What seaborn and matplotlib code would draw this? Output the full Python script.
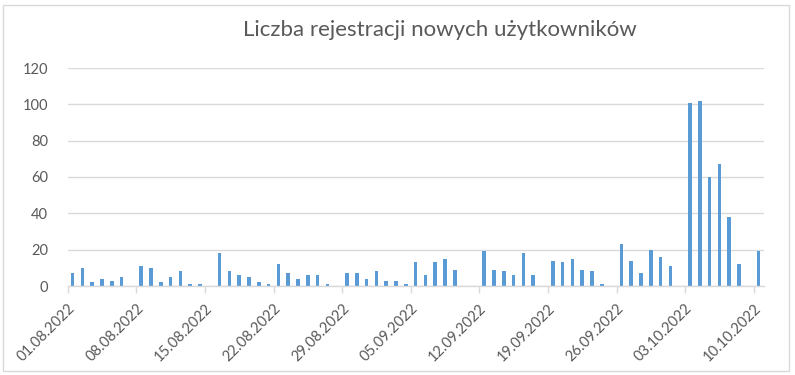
import matplotlib
matplotlib.use("Agg")
import matplotlib.pyplot as plt
import seaborn as sns
import pandas as pd
from matplotlib.patches import Rectangle

dates = pd.date_range("2022-08-01", "2022-10-10", freq="D").strftime("%d.%m.%Y").tolist()
values = [7, 10, 2, 4, 3, 5, 0,
          11, 10, 2, 5, 8, 1, 1,
          0, 18, 8, 6, 5, 2, 1,
          12, 7, 4, 6, 6, 1, 0,
          7, 7, 4, 8, 3, 3, 1,
          13, 6, 13, 15, 9, 0, 0,
          19, 9, 8, 6, 18, 6, 0,
          14, 13, 15, 9, 8, 1, 0,
          23, 14, 7, 20, 16, 11, 0,
          101, 102, 60, 67, 38, 12, 0,
          19]
title = "Liczba rejestracji nowych użytkowników"
yticks = [0, 20, 40, 60, 80, 100, 120]

df = pd.DataFrame({"data": dates, "liczba": values})

sns.set_theme(style="white")
plt.rcParams["font.family"] = ["Lato", "DejaVu Sans"]

fig = plt.figure(figsize=(7.95, 3.75), dpi=100)
ax = fig.add_axes([67.7 / 795, 1 - 286 / 375, (763.5 - 67.7) / 795, (286 - 68) / 375])

sns.barplot(data=df, x="data", y="liczba", color="#5B9BD5", width=0.36,
            saturation=1, linewidth=0, edgecolor="none", ax=ax)

ax.set_xlim(-0.5, len(dates) - 0.5)
ax.set_ylim(0, 120)
ax.set_yticks(yticks)
ax.set_yticklabels([str(v) for v in yticks])
ax.yaxis.grid(True, color="#d9d9d9", linewidth=1)
ax.set_axisbelow(True)

tick_pos = [i - 0.5 for i in range(0, len(dates), 7)]
ax.set_xticks(tick_pos)
ax.set_xticklabels([dates[i] for i in range(0, len(dates), 7)], rotation=45,
                   ha="right", rotation_mode="anchor")
ax.tick_params(axis="x", length=5, color="#d9d9d9", width=1, pad=6,
               labelsize=10.5, labelcolor="#595959", bottom=True)
ax.tick_params(axis="y", length=0, pad=14, labelsize=10.5, labelcolor="#595959")
ax.set_xlabel("")
ax.set_ylabel("")
for s in ["top", "right", "left"]:
    ax.spines[s].set_visible(False)
ax.spines["bottom"].set_color("#d9d9d9")
ax.spines["bottom"].set_linewidth(1)

fig.text(440 / 795, 1 - 30 / 375, title, ha="center", va="center",
         fontsize=16, color="#595959")

fig.patches.append(Rectangle((3 / 795, 4 / 375), 786 / 795, 366 / 375,
                             transform=fig.transFigure, fill=False,
                             edgecolor="#d9d9d9", linewidth=1))

fig.savefig("out.png", dpi=100)
